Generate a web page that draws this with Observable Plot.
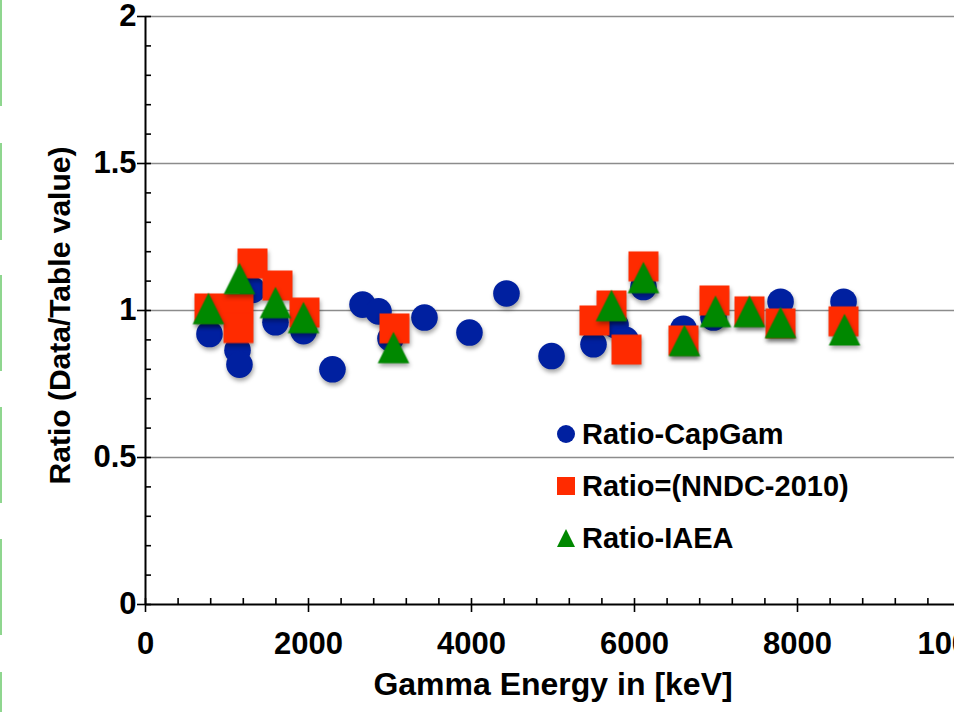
<!DOCTYPE html>
<html>
<head>
<meta charset="utf-8">
<script src="https://cdn.jsdelivr.net/npm/d3@7"></script>
<script src="https://cdn.jsdelivr.net/npm/@observablehq/plot@0.6"></script>
<style>
  html, body { margin: 0; padding: 0; overflow: hidden; background: #fff; width: 954px; height: 712px; }
  #wrap { position: relative; width: 954px; height: 712px; overflow: hidden; }
  #chart svg { overflow: visible; }
  #chart svg text { font-family: "Liberation Sans", Arial, sans-serif; font-weight: bold; }
  .edge { position: absolute; left: 0; width: 2px; background: #8fd68f; }
  .leg { position: absolute; left: 557px; height: 34px; display: flex; align-items: center;
         font-family: "Liberation Sans", Arial, sans-serif; font-weight: bold; font-size: 29px; color: #000; white-space: nowrap; }
  .leg svg { margin-right: 7px; flex: none; }
</style>
</head>
<body>
<div id="wrap">
  <div id="chart"></div>
</div>
<script>
// ---- Data ----
const capGamX = [785, 1129, 1153, 1313, 1595, 1939, 2294, 2663, 2859, 3006, 3423, 3975, 4429, 4982, 5497, 5767, 5890, 6110, 6601, 6969, 7792, 8565];
const capGamY = [0.92, 0.865, 0.816, 1.07, 0.96, 0.93, 0.80, 1.02, 0.997, 0.905, 0.976, 0.925, 1.058, 0.845, 0.885, 0.95, 0.90, 1.08, 0.938, 0.976, 1.03, 1.03];

const nndcX = [785, 1141, 1141, 1313, 1620, 1951, 3055, 5509, 5718, 5902, 6110, 6601, 6981, 7411, 7792, 8565];
const nndcY = [1.007, 1.007, 0.94, 1.16, 1.085, 0.993, 0.939, 0.966, 1.017, 0.867, 1.15, 0.898, 1.034, 0.997, 0.956, 0.963];

const iaeaX = [773, 1153, 1595, 1939, 3043, 5718, 6110, 6613, 6994, 7411, 7792, 8577];
const iaeaY = [1.007, 1.109, 1.027, 0.976, 0.874, 1.017, 1.112, 0.898, 0.997, 0.997, 0.959, 0.935];

const seriesNames = ["Ratio-CapGam", "Ratio=(NNDC-2010)", "Ratio-IAEA"];
const seriesColors = ["#0020a0", "#ff2b00", "#008800"];

const xMajorTicks = [0, 2000, 4000, 6000, 8000, 10000];
const xMinorTicks = [400, 800, 1200, 1600, 2400, 2800, 3200, 3600, 4400, 4800, 5200, 5600, 6400, 6800, 7200, 7600, 8400, 8800, 9200, 9600];
const yMajorTicks = [0, 0.5, 1, 1.5, 2];
const yMinorTicks = [0.1, 0.2, 0.3, 0.4, 0.6, 0.7, 0.8, 0.9, 1.1, 1.2, 1.3, 1.4, 1.6, 1.7, 1.8, 1.9];
const gridValues = [0.5, 1, 1.5, 2];

const xTitle = "Gamma Energy in [keV]";
const yTitle = "Ratio (Data/Table value)";

// custom isosceles triangle (width = height), centred on its box
const triSymbol = {
  draw(ctx, size) {
    const s = Math.sqrt(size);
    ctx.moveTo(0, -s / 2);
    ctx.lineTo(s / 2, s / 2);
    ctx.lineTo(-s / 2, s / 2);
    ctx.closePath();
  }
};

const chart = Plot.plot({
  width: 954,
  height: 712,
  marginLeft: 145,
  marginRight: -6,
  marginTop: 16,
  marginBottom: 108,
  x: { domain: [0, 10000], axis: null },
  y: { domain: [0, 2], axis: null },
  style: { background: "transparent" },
  marks: [
    // gridlines
    Plot.ruleY(gridValues, { y: d => d, stroke: "#8c8c8c", strokeWidth: 1.6 }),
    // axis lines
    Plot.ruleY([0], { y: d => d, stroke: "#000", strokeWidth: 2 }),
    Plot.ruleX([0], { x: d => d, stroke: "#000", strokeWidth: 2 }),
    // x ticks
    Plot.ruleX(xMajorTicks, { x: d => d, y1: 0, y2: 0, insetTop: -6, insetBottom: -8, stroke: "#000", strokeWidth: 1.6 }),
    Plot.ruleX(xMinorTicks, { x: d => d, y1: 0, y2: 0, insetTop: -6, insetBottom: 0, stroke: "#000", strokeWidth: 1.6 }),
    // y ticks
    Plot.ruleY(yMajorTicks, { y: d => d, x1: 0, x2: 0, insetLeft: -8, insetRight: -6, stroke: "#000", strokeWidth: 1.6 }),
    Plot.ruleY(yMinorTicks, { y: d => d, x1: 0, x2: 0, insetLeft: 0, insetRight: -6, stroke: "#000", strokeWidth: 1.6 }),
    // tick labels
    Plot.text(xMajorTicks, { x: d => d, frameAnchor: "bottom", lineAnchor: "top", dy: 27, text: d => String(d), fontSize: 31, fill: "#000" }),
    Plot.text(yMajorTicks, { y: d => d, frameAnchor: "left", textAnchor: "end", dx: -9, text: d => String(d), fontSize: 31, fill: "#000" }),
    // axis titles
    Plot.text([xTitle], { frameAnchor: "bottom", dy: 90, text: d => d, fontSize: 32, fill: "#000" }),
    Plot.text([yTitle], { frameAnchor: "left", textAnchor: "middle", dx: -85, dy: 5, rotate: -90, text: d => d, fontSize: 30, fill: "#000" }),
    // data
    Plot.dot(capGamX, { x: capGamX, y: capGamY, r: 13.3, fill: seriesColors[0], stroke: "none", symbol: "circle" }),
    Plot.dot(nndcX, { x: nndcX, y: nndcY, r: 16.9, fill: seriesColors[1], stroke: "none", symbol: "square" }),
    Plot.dot(iaeaX, { x: iaeaX, y: iaeaY, r: 17.8, fill: seriesColors[2], stroke: "none", symbol: triSymbol })
  ]
});

document.getElementById("chart").appendChild(chart);

// drop shadows on markers
chart.querySelectorAll('g[aria-label="dot"]').forEach(g => {
  g.style.filter = "drop-shadow(1px 3px 2px rgba(0,0,0,0.35))";
});

// legend
const wrap = document.getElementById("wrap");
const legendTops = [417, 469, 521];
const legendShapes = [
  c => `<circle cx="9" cy="9" r="9" fill="${c}"/>`,
  c => `<rect x="0" y="0" width="18" height="18" fill="${c}"/>`,
  c => `<path d="M9,0L18,18L0,18Z" fill="${c}"/>`
];
seriesNames.forEach((name, i) => {
  const div = document.createElement("div");
  div.className = "leg";
  div.style.top = legendTops[i] + "px";
  div.innerHTML = `<svg width="18" height="18" viewBox="0 0 18 18">${legendShapes[i](seriesColors[i])}</svg><span>${name}</span>`;
  wrap.appendChild(div);
});

// green edge fragments at the left border of the picture
[[0, 106], [143, 240], [275, 371], [407, 503], [539, 635], [672, 712]].forEach(([a, b]) => {
  const d = document.createElement("div");
  d.className = "edge";
  d.style.top = a + "px";
  d.style.height = (b - a) + "px";
  wrap.appendChild(d);
});
</script>
</body>
</html>
